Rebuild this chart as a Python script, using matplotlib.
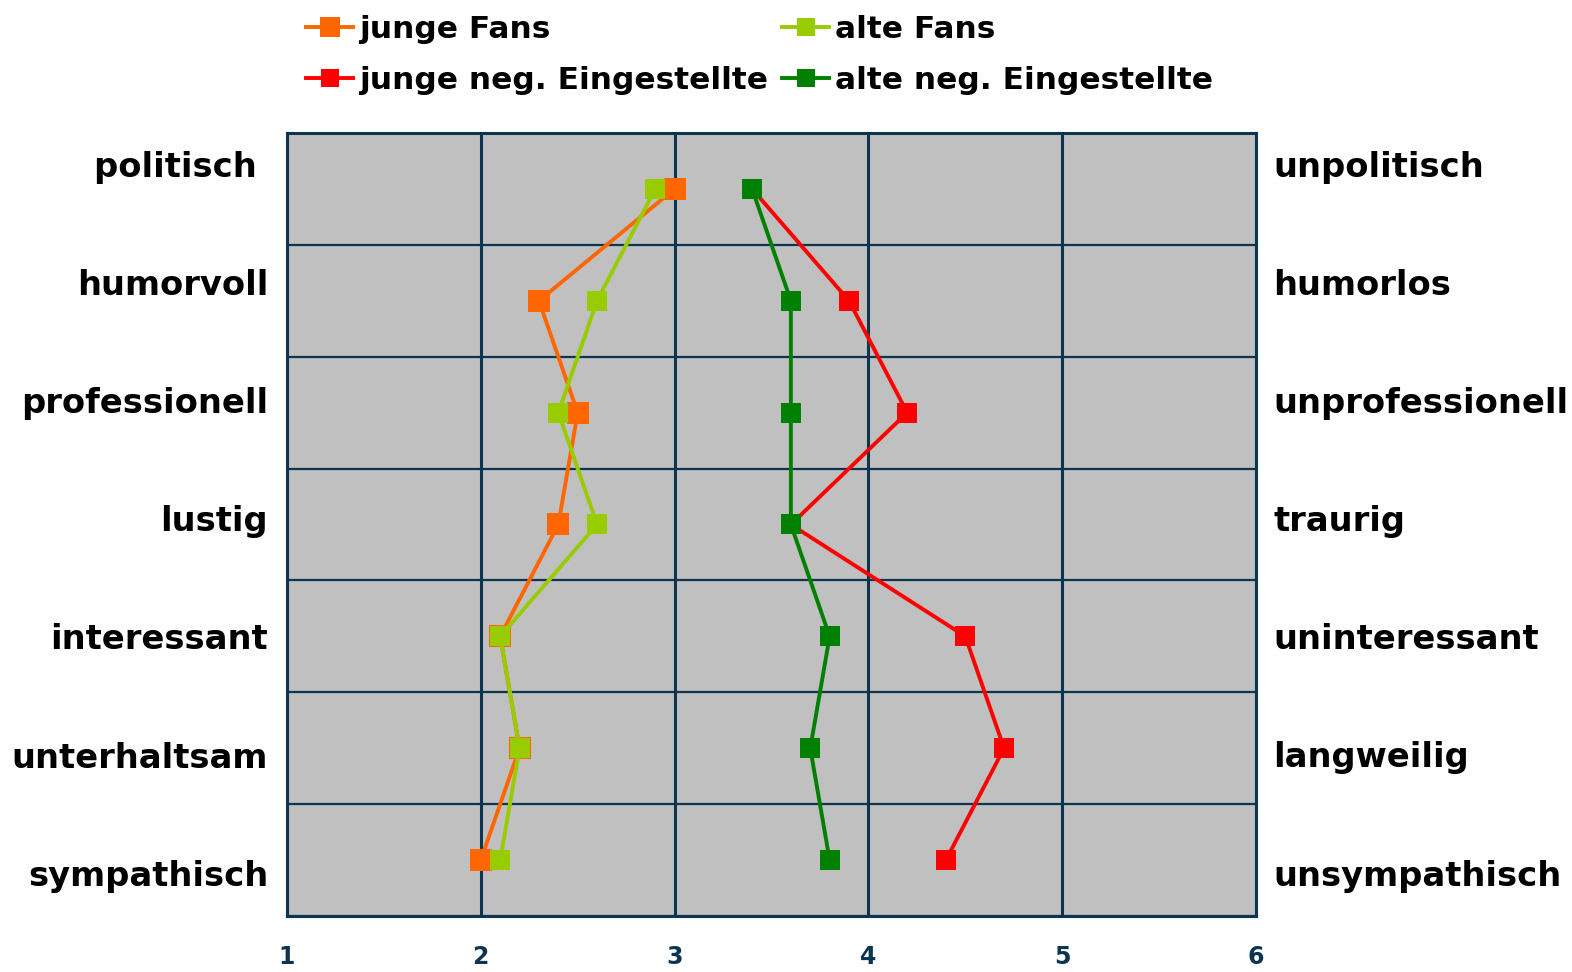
import matplotlib
matplotlib.use("Agg")
import matplotlib.pyplot as plt
from matplotlib.ticker import MultipleLocator

##############################################################################################

left_labels = ["politisch ", "humorvoll", "professionell", "lustig",
               "interessant", "unterhaltsam", "sympathisch"]
right_labels = ["unpolitisch", "humorlos", "unprofessionell", "traurig",
                "uninteressant", "langweilig", "unsympathisch"]

junge_fans = [3.0, 2.3, 2.5, 2.4, 2.1, 2.2, 2.0]
junge_neg = [3.4, 3.9, 4.2, 3.6, 4.5, 4.7, 4.4]
alte_fans = [2.9, 2.6, 2.4, 2.6, 2.1, 2.2, 2.1]
alte_neg = [3.4, 3.6, 3.6, 3.6, 3.8, 3.7, 3.8]

x_ticks = [1, 2, 3, 4, 5, 6]

##############################################################################################

W, H = 1572, 972
GRID = "#0d3550"

fig = plt.figure(figsize=(W / 100, H / 100), dpi=100)
ax = fig.add_axes([287 / W, 1 - 916 / H, (1256 - 287) / W, (916 - 133) / H])
ax.set_facecolor("#c0c0c0")

rows = range(len(left_labels))
series = [
    ("junge Fans", junge_fans, "#ff6600", 16.5),
    ("junge neg. Eingestellte", junge_neg, "#ff0000", 15),
    ("alte Fans", alte_fans, "#99cc00", 15),
    ("alte neg. Eingestellte", alte_neg, "#008000", 15),
]
for name, vals, col, ms in series:
    ax.plot(vals, list(rows), color=col, lw=2.8, marker="s", ms=ms,
            markeredgewidth=0, label=name, zorder=3)

ax.set_xlim(1, 6)
ax.set_ylim(6.5, -0.5)
ax.set_xticks(x_ticks)
ax.set_xticklabels([str(t) for t in x_ticks], fontsize=17, fontweight="bold", color=GRID)
ax.set_yticks([])
ax.yaxis.set_minor_locator(MultipleLocator(1, offset=0.5))
ax.tick_params(axis="x", length=0, pad=21)
ax.tick_params(axis="y", which="minor", length=0)
ax.grid(axis="x", color=GRID, lw=2.2, zorder=1)
ax.grid(axis="y", which="minor", color=GRID, lw=1.6, zorder=1)
for sp in ax.spines.values():
    sp.set_color(GRID)
    sp.set_linewidth(2.2)

# side labels (spaced a bit wider than the rows, like the original)
for i, (l, r) in enumerate(zip(left_labels, right_labels)):
    yy = 1 - (167 + 118.2 * i) / H
    fig.text(268 / W, yy, l, ha="right", va="center", fontsize=24.3, fontweight="bold")
    fig.text(1273 / W, yy, r, ha="left", va="center", fontsize=24.3, fontweight="bold")

leg = fig.legend(loc="upper left", bbox_to_anchor=(278 / W, 1 + 13 / H), ncol=2,
                 frameon=False, prop={"size": 22.5, "weight": "bold"},
                 handlelength=1.5, handletextpad=0.2, columnspacing=0.45,
                 labelspacing=0.7, markerscale=0.9)

fig.savefig("out.png", dpi=100)
